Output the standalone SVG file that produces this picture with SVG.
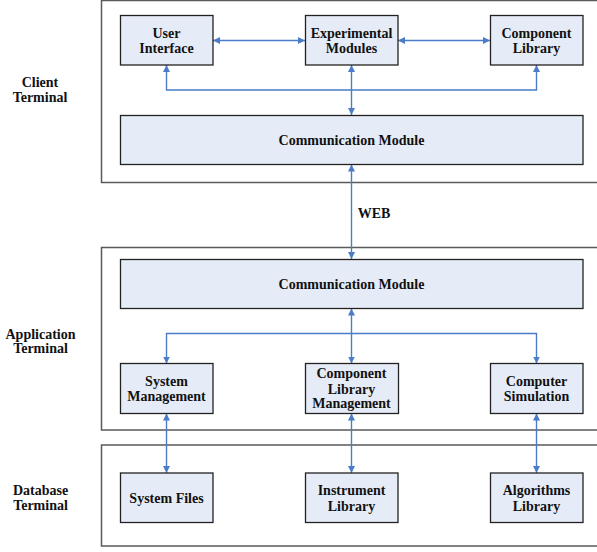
<svg xmlns="http://www.w3.org/2000/svg" width="597" height="552" viewBox="0 0 597 552">
<style>
.outer{fill:#fff;stroke:#5a5a5a;stroke-width:1.5}
.box{fill:#E6ECF7;stroke:#222;stroke-width:1.3}
.t{font-family:"Liberation Serif",serif;font-weight:bold;font-size:14px;fill:#111;text-anchor:middle}
.c{stroke:#4A7CC9;stroke-width:1.4;fill:none}
</style>
<defs>
<marker id="ah" viewBox="0 0 10 10" refX="10" refY="5" markerWidth="7" markerHeight="7" markerUnits="userSpaceOnUse" orient="auto-start-reverse">
<path d="M0,0 L10,5 L0,10 z" fill="#4A7CC9"/>
</marker>
</defs>
<rect width="597" height="552" fill="#fff"/>
<g id="client-terminal">
<rect class="outer" x="101.5" y="0.5" width="510" height="182"/>
<text class="t" x="40" y="87">Client</text>
<text class="t" x="40" y="102">Terminal</text>
</g>
<g id="application-terminal">
<rect class="outer" x="101.5" y="247.5" width="510" height="182.5"/>
<text class="t" x="40.5" y="338.5">Application</text>
<text class="t" x="40.5" y="352.5">Terminal</text>
</g>
<g id="database-terminal">
<rect class="outer" x="101.5" y="445" width="510" height="101"/>
<text class="t" x="40.5" y="495">Database</text>
<text class="t" x="40.5" y="510">Terminal</text>
</g>
<g id="connectors">
<line class="c" x1="213" y1="40.5" x2="305" y2="40.5" marker-start="url(#ah)" marker-end="url(#ah)"/>
<line class="c" x1="398" y1="40.5" x2="490" y2="40.5" marker-start="url(#ah)" marker-end="url(#ah)"/>
<polyline class="c" points="166.5,65 166.5,90 536.5,90 536.5,65" marker-start="url(#ah)" marker-end="url(#ah)"/>
<line class="c" x1="351.5" y1="65" x2="351.5" y2="115" marker-start="url(#ah)" marker-end="url(#ah)"/>
<line class="c" x1="351.5" y1="164.5" x2="351.5" y2="259" marker-start="url(#ah)" marker-end="url(#ah)"/>
<line class="c" x1="351.5" y1="308.5" x2="351.5" y2="363.5" marker-start="url(#ah)" marker-end="url(#ah)"/>
<polyline class="c" points="166.5,363.5 166.5,333.5 536.5,333.5 536.5,363.5" marker-start="url(#ah)" marker-end="url(#ah)"/>
<line class="c" x1="166.5" y1="413.5" x2="166.5" y2="473" marker-start="url(#ah)" marker-end="url(#ah)"/>
<line class="c" x1="351.5" y1="413.5" x2="351.5" y2="473" marker-start="url(#ah)" marker-end="url(#ah)"/>
<line class="c" x1="536.5" y1="413.5" x2="536.5" y2="473" marker-start="url(#ah)" marker-end="url(#ah)"/>
<text class="t" x="374" y="218">WEB</text>
</g>
<g id="user-interface">
<rect class="box" x="120.5" y="15.5" width="92.5" height="49.5"/>
<text class="t" x="166.5" y="38">User</text>
<text class="t" x="166.5" y="53">Interface</text>
</g>
<g id="experimental-modules">
<rect class="box" x="305.5" y="15.5" width="92.5" height="49.5"/>
<text class="t" x="351.5" y="38">Experimental</text>
<text class="t" x="351.5" y="53">Modules</text>
</g>
<g id="component-library">
<rect class="box" x="490.5" y="15.5" width="92.5" height="49.5"/>
<text class="t" x="536.5" y="38">Component</text>
<text class="t" x="536.5" y="53">Library</text>
</g>
<g id="client-communication-module">
<rect class="box" x="120.5" y="115.5" width="462.5" height="49"/>
<text class="t" x="351.5" y="145">Communication Module</text>
</g>
<g id="app-communication-module">
<rect class="box" x="120.5" y="259.5" width="462.5" height="49"/>
<text class="t" x="351.5" y="289">Communication Module</text>
</g>
<g id="system-management">
<rect class="box" x="120.5" y="363.5" width="92.5" height="50"/>
<text class="t" x="166.5" y="386">System</text>
<text class="t" x="166.5" y="401">Management</text>
</g>
<g id="component-library-management">
<rect class="box" x="305.5" y="363.5" width="93" height="50"/>
<text class="t" x="351.5" y="378">Component</text>
<text class="t" x="351.5" y="393.5">Library</text>
<text class="t" x="351.5" y="408">Management</text>
</g>
<g id="computer-simulation">
<rect class="box" x="490.5" y="363.5" width="92.5" height="50"/>
<text class="t" x="536.5" y="386">Computer</text>
<text class="t" x="536.5" y="400.5">Simulation</text>
</g>
<g id="system-files">
<rect class="box" x="120.5" y="473" width="92.5" height="49.5"/>
<text class="t" x="166.5" y="502.5">System Files</text>
</g>
<g id="instrument-library">
<rect class="box" x="305.5" y="473" width="92.5" height="49.5"/>
<text class="t" x="351.5" y="495">Instrument</text>
<text class="t" x="351.5" y="510.5">Library</text>
</g>
<g id="algorithms-library">
<rect class="box" x="490.5" y="473" width="92.5" height="49.5"/>
<text class="t" x="536.5" y="495">Algorithms</text>
<text class="t" x="536.5" y="510.5">Library</text>
</g>
</svg>
